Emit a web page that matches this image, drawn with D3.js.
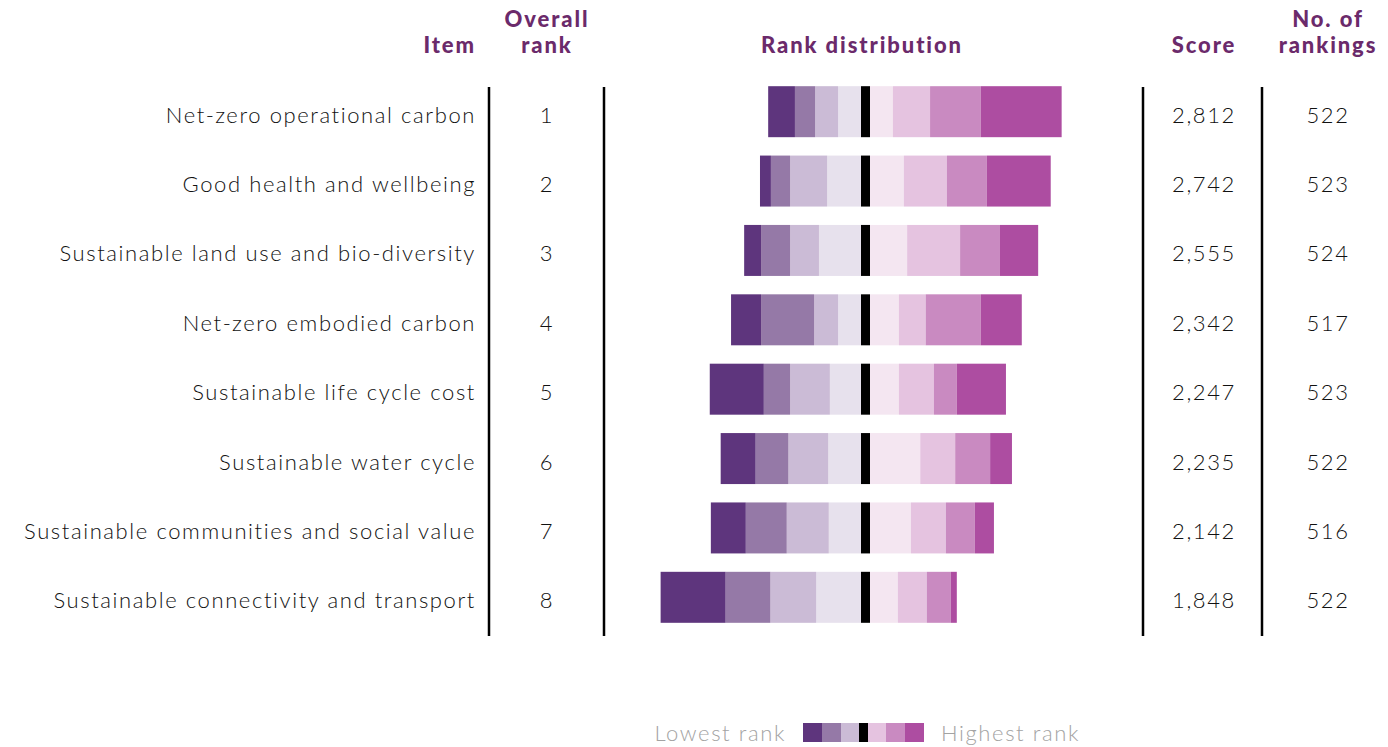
<!DOCTYPE html>
<html>
<head>
<meta charset="utf-8">
<script src="https://cdn.jsdelivr.net/npm/d3@7"></script>
<style>
  body { margin: 0; background: #fff; }
  svg { display: block; font-family: Lato, "Open Sans", sans-serif; }
  svg text { letter-spacing: 1.6px; }
  svg .head text { letter-spacing: 1.9px; }
</style>
</head>
<body>
<svg id="chart" width="1388" height="747"></svg>
<script>
// items, in overall rank order
var items = [
  "Net-zero operational carbon",
  "Good health and wellbeing",
  "Sustainable land use and bio-diversity",
  "Net-zero embodied carbon",
  "Sustainable life cycle cost",
  "Sustainable water cycle",
  "Sustainable communities and social value",
  "Sustainable connectivity and transport"
]
var overallRank = [1, 2, 3, 4, 5, 6, 7, 8]
var scores = [2812, 2742, 2555, 2342, 2247, 2235, 2142, 1848]
var numRankings = [522, 523, 524, 517, 523, 522, 516, 522]

// counts given each rank, lowest rank (8) ... highest rank (1)
var rank8 = [49, 20, 31, 55, 99, 64, 64, 119]
var rank7 = [37, 35, 53, 97, 48, 60, 75, 82]
var rank6 = [42, 68, 53, 44, 73, 73, 77, 84]
var rank5 = [42, 62, 77, 42, 57, 60, 59, 82]
var rank4 = [42, 62, 68, 53, 53, 92, 75, 51]
var rank3 = [68, 79, 97, 49, 64, 64, 64, 53]
var rank2 = [93, 73, 73, 101, 42, 64, 53, 44]
var rank1 = [148, 117, 70, 75, 90, 40, 35, 11]

var leftColors = ["#5e357d", "#9579a7", "#cbbbd6", "#e7e1ed"]
var rightColors = ["#f4e6f1", "#e5c3e0", "#c98ac1", "#ad4da1"]
var headColor = "#6b2a6b"

var svg = d3.select("#chart")

var y = d3.scaleBand()
  .domain(items)
  .range([77, 632])
  .paddingInner(0.265)
  .paddingOuter(0.1325)

var centerLeft = 861, centerW = 9
var w = d3.scaleLinear().domain([0, 100]).range([0, 54.6])

/* headers */
var head = svg.append("g")
  .attr("class", "head")
  .attr("fill", headColor)
  .attr("font-weight", 900)
  .attr("font-size", 22)
var headers = [
  { x: 476, anchor: "end", lines: ["Item"] },
  { x: 547, anchor: "middle", lines: ["Overall", "rank"] },
  { x: 862, anchor: "middle", lines: ["Rank distribution"] },
  { x: 1204, anchor: "middle", lines: ["Score"] },
  { x: 1328, anchor: "middle", lines: ["No. of", "rankings"] }
]
headers.forEach(function(h) {
  h.lines.forEach(function(l, i) {
    head.append("text")
      .attr("text-anchor", h.anchor)
      .attr("x", h.x)
      .attr("y", 53 - 26 * (h.lines.length - 1 - i))
      .text(l)
  })
})

/* column separators */
svg.selectAll("line.sep")
  .data([489, 604, 1143, 1262])
  .enter().append("line")
  .attr("class", "sep")
  .attr("x1", function(d) { return d }).attr("x2", function(d) { return d })
  .attr("y1", 87).attr("y2", 636)
  .attr("stroke", "#000")
  .attr("stroke-width", 2.5)

/* build rows */
var rows = items.map(function(name, i) {
  return {
    name: name,
    rank: overallRank[i],
    score: scores[i],
    n: numRankings[i],
    left: [rank8[i], rank7[i], rank6[i], rank5[i]],
    right: [rank4[i], rank3[i], rank2[i], rank1[i]]
  }
})

var row = svg.selectAll("g.row")
  .data(rows)
  .enter().append("g")
  .attr("class", "row")
  .attr("transform", function(d) { return "translate(0," + y(d.name) + ")" })

var bh = y.bandwidth()
var textY = bh / 2 + 11

function cell(sel, x, anchor, fn) {
  sel.append("text")
    .attr("x", x).attr("y", textY)
    .attr("text-anchor", anchor)
    .attr("font-size", 22)
    .attr("font-weight", 300)
    .attr("fill", "#111")
    .text(fn)
}
cell(row, 476, "end", function(d) { return d.name })
cell(row, 547, "middle", function(d) { return d.rank })
cell(row, 1204, "middle", function(d) { return d3.format(",")(d.score) })
cell(row, 1328, "middle", function(d) { return d.n })

// segments stacked outward from the centre divider
row.each(function(d) {
  var g = d3.select(this)
  var segs = [], acc = 0
  for (var k = 3; k >= 0; k--) {
    acc += d.left[k]
    segs.push({ x: centerLeft - w(acc), width: w(d.left[k]), color: leftColors[k] })
  }
  acc = 0
  for (var j = 0; j < 4; j++) {
    segs.push({ x: centerLeft + centerW + w(acc), width: w(d.right[j]), color: rightColors[j] })
    acc += d.right[j]
  }
  g.selectAll("rect.seg")
    .data(segs)
    .enter().append("rect")
    .attr("class", "seg")
    .attr("x", function(s) { return s.x })
    .attr("width", function(s) { return s.width })
    .attr("y", 0)
    .attr("height", bh)
    .attr("fill", function(s) { return s.color })
  g.append("rect")
    .attr("x", centerLeft).attr("width", centerW)
    .attr("y", 0).attr("height", bh)
    .attr("fill", "#000")
})

/* legend */
var legendColors = [leftColors[0], leftColors[1], leftColors[2], "#000", rightColors[1], rightColors[2], rightColors[3]]
var legendW = [19, 19, 18, 9, 18, 19, 19]
var lx = 803, legend = svg.append("g")
legendColors.forEach(function(c, i) {
  legend.append("rect")
    .attr("x", lx).attr("y", 723)
    .attr("width", legendW[i]).attr("height", 19)
    .attr("fill", c)
  lx += legendW[i]
})
legend.append("text").attr("x", 786).attr("y", 741).attr("text-anchor", "end")
  .attr("font-size", 22).attr("font-weight", 300).attr("fill", "#a3a3a3").text("Lowest rank")
legend.append("text").attr("x", 941).attr("y", 741)
  .attr("font-size", 22).attr("font-weight", 300).attr("fill", "#a3a3a3").text("Highest rank")
</script>
</body>
</html>
